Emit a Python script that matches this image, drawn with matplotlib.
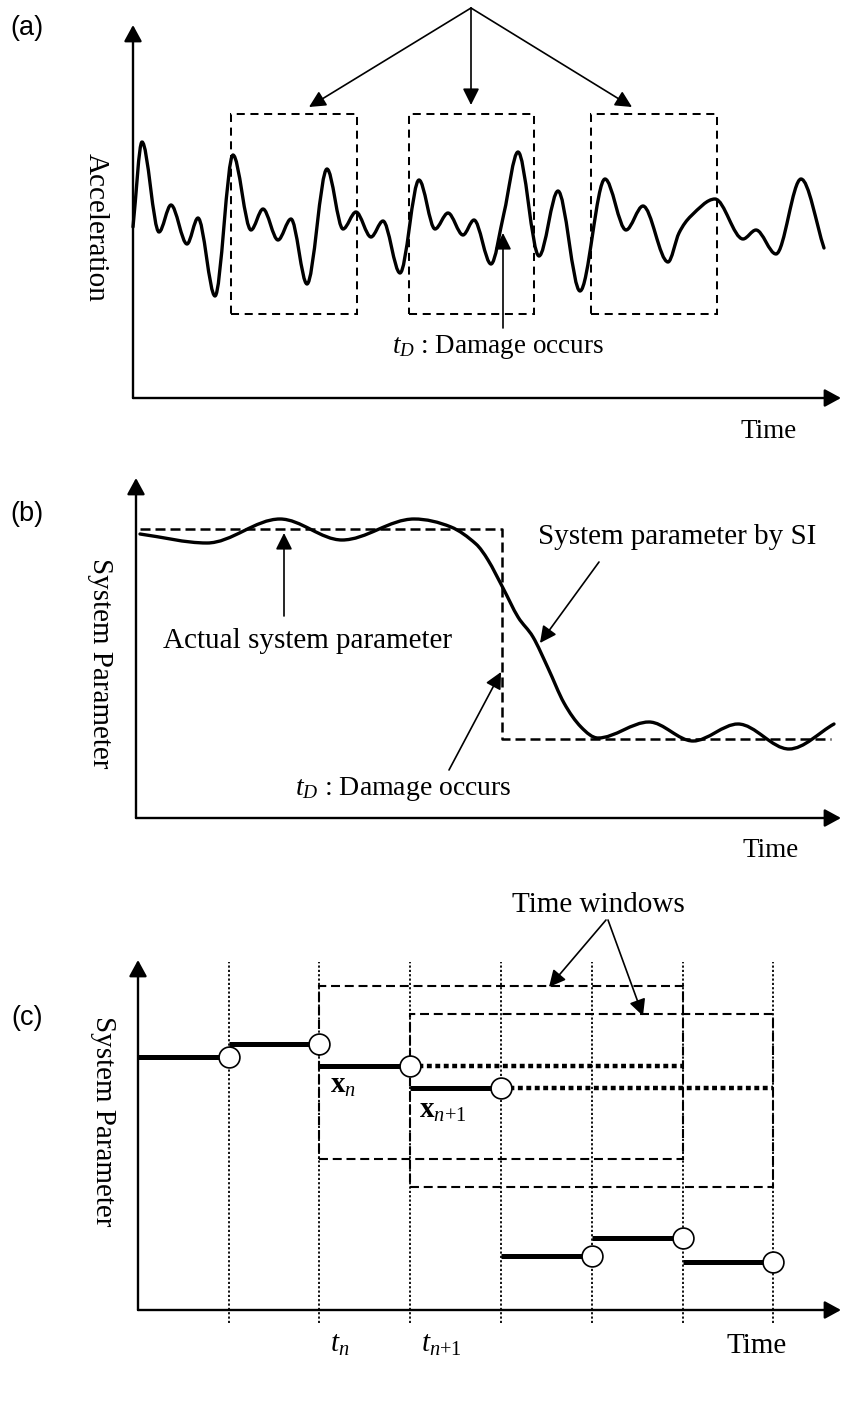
import numpy as np
import matplotlib
matplotlib.use('Agg')
import matplotlib.pyplot as plt
from matplotlib.path import Path
from matplotlib.patches import PathPatch, Rectangle

plt.rcParams['font.family'] = ['Liberation Serif', 'DejaVu Serif']
plt.rcParams['mathtext.fontset'] = 'custom'
plt.rcParams['mathtext.rm'] = 'Liberation Serif'
plt.rcParams['mathtext.it'] = 'Liberation Serif:italic'
plt.rcParams['mathtext.bf'] = 'Liberation Serif:bold'

# ---- (a) acceleration record (time, acceleration) ----
acc_t = [0, 9, 26, 38, 54, 65, 82, 100, 118, 130, 145, 158, 174, 194, 210, 223,
         238, 250, 267, 286, 302, 315, 330, 341, 358, 371, 385, 406, 425, 447,
         472, 493, 510, 535, 546, 558, 582, 610, 623, 643, 668, 691]
acc_v = [171, 256, 166, 193, 154, 180, 102, 243, 168, 189, 158, 179, 114, 229,
         169, 186, 161, 177, 125, 218, 169, 185, 163, 178, 134, 185, 246, 142,
         207, 107, 219, 168, 192, 136, 165, 182, 199, 159, 168, 144, 219, 150]
win_a_start = [98, 276, 458]
win_a_end = [224, 401, 584]
win_a_low, win_a_high = 84, 284
td_a = 370

# ---- (b) system parameter ----
actual_t = [4, 366, 366, 695]
actual_v = [289, 289, 79, 79]
si_t = [4, 71, 144, 206, 278, 315, 340, 352, 367, 382, 397, 412, 428, 445,
        462, 513, 557, 602, 653, 698]
si_v = [284, 275, 299, 278, 299, 291, 274, 258, 230, 201, 181, 150, 115, 91,
        80, 96, 77, 94, 69, 94]

# ---- (c) moving time windows ----
step_t = [0, 91, 181, 272, 363, 454, 545, 635]
step_v = [253, 266, 244, 222, 54, 72, 48]
win_c_start = [181, 272]
win_c_end = [545, 635]
win_c_low = [151, 123]
win_c_high = [324, 296]
extended = [2, 3]

W, H = 842, 1405
fig = plt.figure(figsize=(W / 100, H / 100), dpi=100)


def panel(top, bottom, ox, oy):
    ax = fig.add_axes([0, 1 - bottom / H, 1, (bottom - top) / H])
    ax.set_xlim(-ox, W - ox)
    ax.set_ylim(oy - bottom, oy - top)
    ax.axis('off')
    return ax


def smooth(ax, xs, ys, **kw):
    x = np.asarray(xs, float)
    y = np.asarray(ys, float)
    n = len(x)
    m = np.zeros(n)
    m[0] = (y[1] - y[0]) / (x[1] - x[0])
    m[-1] = (y[-1] - y[-2]) / (x[-1] - x[-2])
    for i in range(1, n - 1):
        if (y[i] - y[i - 1]) * (y[i + 1] - y[i]) <= 0:
            m[i] = 0
        else:
            m[i] = (y[i + 1] - y[i - 1]) / (x[i + 1] - x[i - 1])
    verts = [(x[0], y[0])]
    codes = [Path.MOVETO]
    for i in range(n - 1):
        h = x[i + 1] - x[i]
        verts += [(x[i] + h / 3, y[i] + m[i] * h / 3),
                  (x[i + 1] - h / 3, y[i + 1] - m[i + 1] * h / 3),
                  (x[i + 1], y[i + 1])]
        codes += [Path.CURVE4] * 3
    ax.add_patch(PathPatch(Path(verts, codes), fill=False, capstyle='round',
                           joinstyle='round', **kw))


def axes_arrows(ax, xmax, ymax):
    kw = dict(arrowstyle='-|>,head_length=0.55,head_width=0.3', mutation_scale=18,
              lw=1.7, color='k', shrinkA=0, shrinkB=0)
    ax.annotate('', xy=(0, ymax), xytext=(0, 0), arrowprops=kw)
    ax.annotate('', xy=(xmax, 0), xytext=(0, 0), arrowprops=kw)


def pointer(ax, tip, tail):
    ax.annotate('', xy=tip, xytext=tail,
                arrowprops=dict(arrowstyle='-|>,head_length=0.5,head_width=0.25',
                                mutation_scale=20, lw=1.2, color='k',
                                shrinkA=0, shrinkB=0))


# ================= (a) =================
ax = panel(0, 420, 133, 398)
axes_arrows(ax, 708, 373)
for s, e in zip(win_a_start, win_a_end):
    ax.add_patch(Rectangle((s, win_a_low), e - s, win_a_high - win_a_low, fill=False,
                           lw=1.45, ls=(0, (4, 2.8)), ec='k'))
smooth(ax, acc_t, acc_v, lw=2.4, ec='k')
for tip in [(176, 291), (338, 293), (499, 291)]:
    pointer(ax, tip, (338, 390))
pointer(ax, (td_a, 165), (td_a, 70))
ax.text(259, 45, r'$t_D$ : Damage occurs', fontsize=19.5, ha='left', va='baseline')
ax.text(-37, 171, 'Acceleration', fontsize=21, rotation=270, ha='center', va='center')
ax.text(636, -40, 'Time', fontsize=19.5, ha='center', va='baseline')
ax.text(-106, 370, '(a)', family='Liberation Sans', fontsize=19.5, ha='center', va='center')

# ================= (b) =================
ax = panel(420, 860, 136, 818)
axes_arrows(ax, 705, 340)
ax.plot(actual_t, actual_v, color='k', lw=1.8, ls=(0, (4, 2)))
smooth(ax, si_t, si_v, lw=2.4, ec='k')
pointer(ax, (148, 285), (148, 202))
ax.text(27, 170, 'Actual system parameter', fontsize=21, ha='left', va='baseline')
ax.text(402, 274, 'System parameter by SI', fontsize=21, ha='left', va='baseline')
pointer(ax, (404, 175), (463, 256))
ax.text(159, 23, r'$t_D$ : Damage occurs', fontsize=20, ha='left', va='baseline')
pointer(ax, (365, 146), (313, 48))
ax.text(-36, 155, 'System Parameter', fontsize=21, rotation=270, ha='center', va='center')
ax.text(635, -39, 'Time', fontsize=19.5, ha='center', va='baseline')
ax.text(-109, 304, '(b)', family='Liberation Sans', fontsize=19.5, ha='center', va='center')

# ================= (c) =================
ax = panel(860, 1405, 138, 1310)
axes_arrows(ax, 703, 350)
ax.vlines(step_t[1:], -13, 348, colors='k', lw=1.3, ls=(0, (1.2, 1.2)))
for s, e, lo, hi in zip(win_c_start, win_c_end, win_c_low, win_c_high):
    ax.add_patch(Rectangle((s, lo), e - s, hi - lo, fill=False, lw=1.5,
                           ls=(0, (4.3, 2.3)), ec='k'))
for i, e in zip(extended, win_c_end):
    ax.plot([step_t[i + 1], e], [step_v[i], step_v[i]], color='k', lw=3.2,
            ls=(0, (1.1, 0.8)), solid_capstyle='butt')
for i, v in enumerate(step_v):
    ax.plot([step_t[i], step_t[i + 1]], [v, v], color='k', lw=3.6,
            solid_capstyle='butt')
ax.plot(step_t[1:], step_v, 'o', ms=15, mfc='white', mec='k', mew=1.2, zorder=5)
ax.text(192, 217, r'$\mathbf{x}_n$', fontsize=21, ha='left', va='baseline')
ax.text(281, 192, r'$\mathbf{x}_{n\mathrm{+}1}$', fontsize=21, ha='left', va='baseline')
ax.text(192, -42, r'$t_n$', fontsize=21, ha='left', va='baseline')
ax.text(283, -42, r'$t_{n\mathrm{+}1}$', fontsize=21, ha='left', va='baseline')
ax.text(619, -43, 'Time', fontsize=21, ha='center', va='baseline')
ax.text(460, 398, 'Time windows', fontsize=21, ha='center', va='baseline')
pointer(ax, (411, 323), (468, 390))
pointer(ax, (505, 294), (470, 390))
ax.text(-35, 189, 'System Parameter', fontsize=21, rotation=270, ha='center', va='center')
ax.text(-111, 292, '(c)', family='Liberation Sans', fontsize=19.5, ha='center', va='center')

fig.savefig('out.png', dpi=100)
